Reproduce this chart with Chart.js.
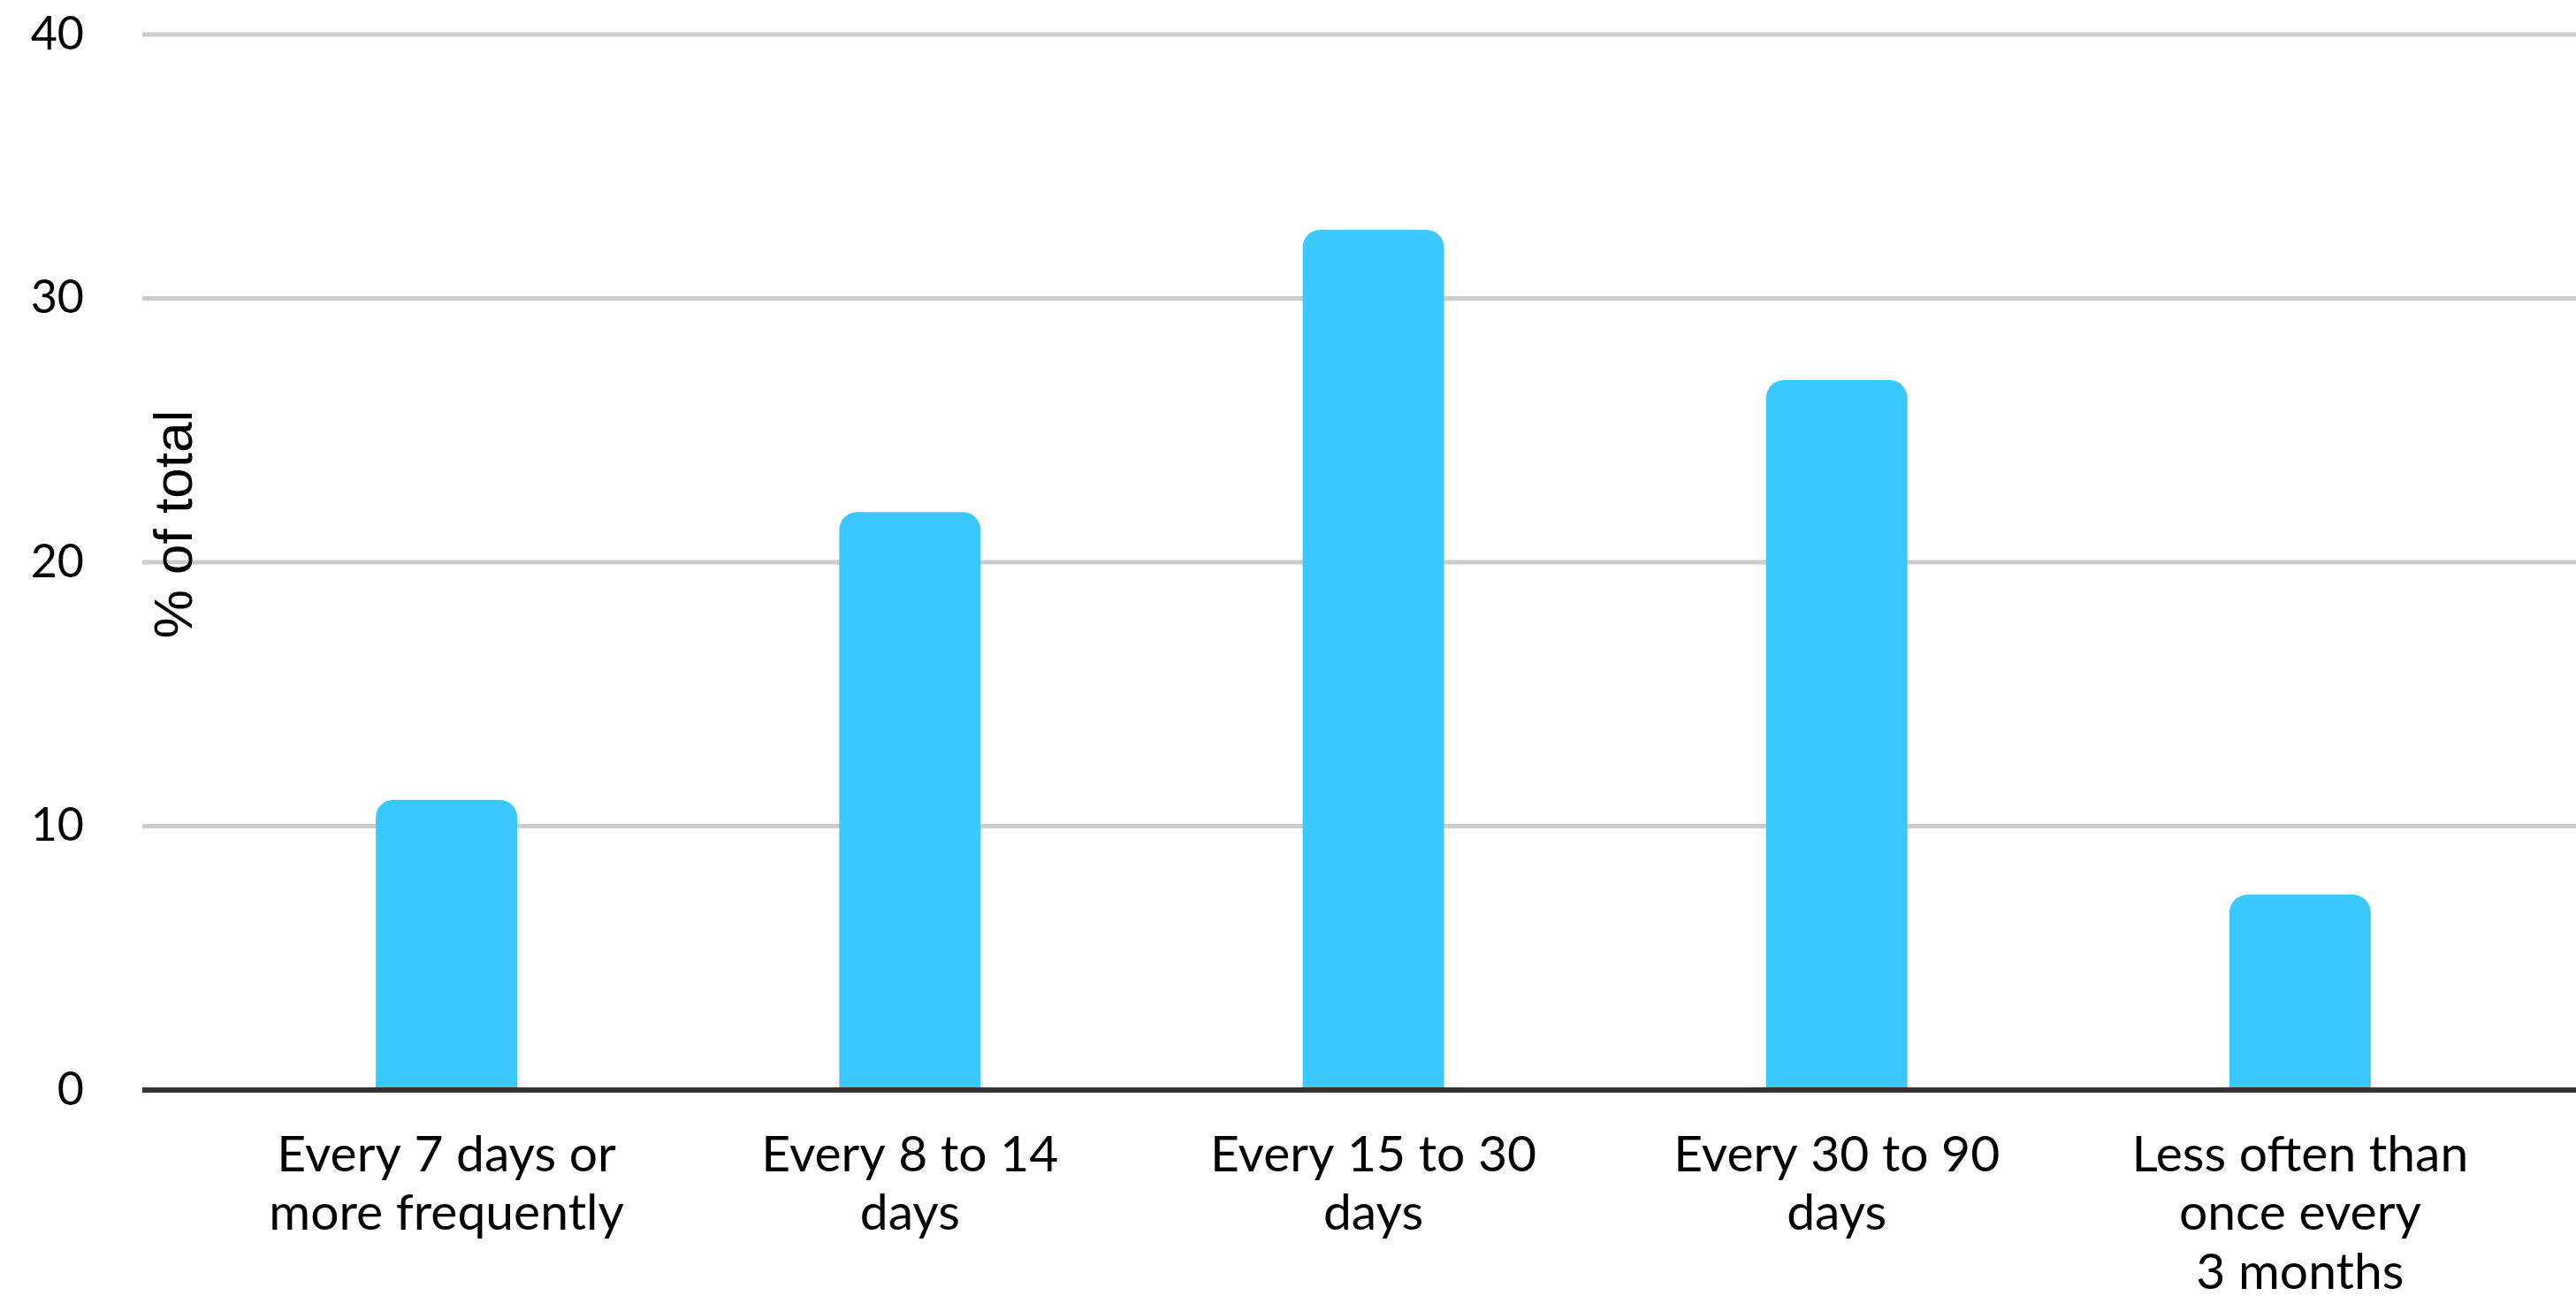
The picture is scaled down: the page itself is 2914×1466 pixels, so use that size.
<!DOCTYPE html>
<html>
<head>
<meta charset="utf-8">
<script src="https://cdn.jsdelivr.net/npm/chart.js@4"></script>
<style>
  html, body { margin: 0; padding: 0; background: #fff; }
  #wrap { width: 2914px; height: 1466px; }
</style>
</head>
<body>
<div id="wrap"><canvas id="freqChart" width="2914" height="1466"></canvas></div>
<script>
// chart data
const categories = [
    ['Every 7 days or', 'more frequently'],
    ['Every 8 to 14', 'days'],
    ['Every 15 to 30', 'days'],
    ['Every 30 to 90', 'days'],
    ['Less often than', 'once every', '3 months']
];
const shareOfTotal = [11, 21.9, 32.6, 26.9, 7.4];
const yTicks = [0, 10, 20, 30, 40];
const yTitle = '% of total';

const LABEL_FONT = 'Lato, "Open Sans", sans-serif';

// grid lines run past the plot on the left, like the original
const gridPlugin = {
    id: 'wideGrid',
    beforeDatasetsDraw(chart) {
        const { ctx, scales: { y } } = chart;
        ctx.save();
        y.ticks.forEach(t => {
            if (t.value === 0) return;
            const py = y.getPixelForValue(t.value);
            ctx.strokeStyle = '#cccccc';
            ctx.lineWidth = 5;
            ctx.beginPath();
            ctx.moveTo(161, py);
            ctx.lineTo(chart.width, py);
            ctx.stroke();
        });
        ctx.restore();
    },
    afterDatasetsDraw(chart) {
        const { ctx, scales: { y } } = chart;
        const py = y.getPixelForValue(0);
        ctx.save();
        ctx.strokeStyle = '#333333';
        ctx.lineWidth = 6;
        ctx.beginPath();
        ctx.moveTo(161, py);
        ctx.lineTo(chart.width, py);
        ctx.stroke();

        // axis title sits inside the plot, right of the tick labels
        ctx.fillStyle = '#000';
        ctx.font = '62px "Liberation Sans", Arial, sans-serif';
        ctx.textAlign = 'center';
        ctx.textBaseline = 'middle';
        ctx.translate(200, 593);
        ctx.rotate(-Math.PI / 2);
        ctx.fillText(yTitle, 0, 0);
        ctx.restore();
    }
};

const ctx = document.getElementById('freqChart').getContext('2d');
new Chart(ctx, {
    type: 'bar',
    data: {
        labels: categories,
        datasets: [{
            data: shareOfTotal,
            backgroundColor: '#3AC8FE',
            borderRadius: { topLeft: 20, topRight: 20 },
            borderSkipped: 'start',
            barPercentage: 0.305,
            categoryPercentage: 1
        }]
    },
    options: {
        responsive: false,
        animation: false,
        devicePixelRatio: 1,
        layout: { padding: { top: 39, right: 50, left: 0, bottom: 0 } },
        plugins: {
            legend: { display: false },
            tooltip: { enabled: false }
        },
        scales: {
            x: {
                grid: { display: false, drawTicks: false },
                border: { display: false },
                afterFit: (scale) => {
                    scale.height = 1466 - 1233;
                    scale.paddingLeft = 0;
                    scale.paddingRight = 0;
                },
                ticks: {
                    color: '#000',
                    autoSkip: false,
                    maxRotation: 0,
                    padding: 40,
                    font: { family: LABEL_FONT, size: 57, lineHeight: 1.17 }
                }
            },
            y: {
                min: 0,
                max: 40,
                grid: { display: false, drawTicks: false },
                border: { display: false },
                afterFit: (scale) => {
                    scale.width = 243;
                    scale.paddingTop = 0;
                    scale.paddingBottom = 0;
                },
                afterBuildTicks: (scale) => {
                    scale.ticks = yTicks.map(v => ({ value: v }));
                },
                ticks: {
                    color: '#000',
                    padding: 148,
                    font: { family: LABEL_FONT, size: 52 }
                }
            }
        }
    },
    plugins: [gridPlugin]
});
</script>
</body>
</html>
